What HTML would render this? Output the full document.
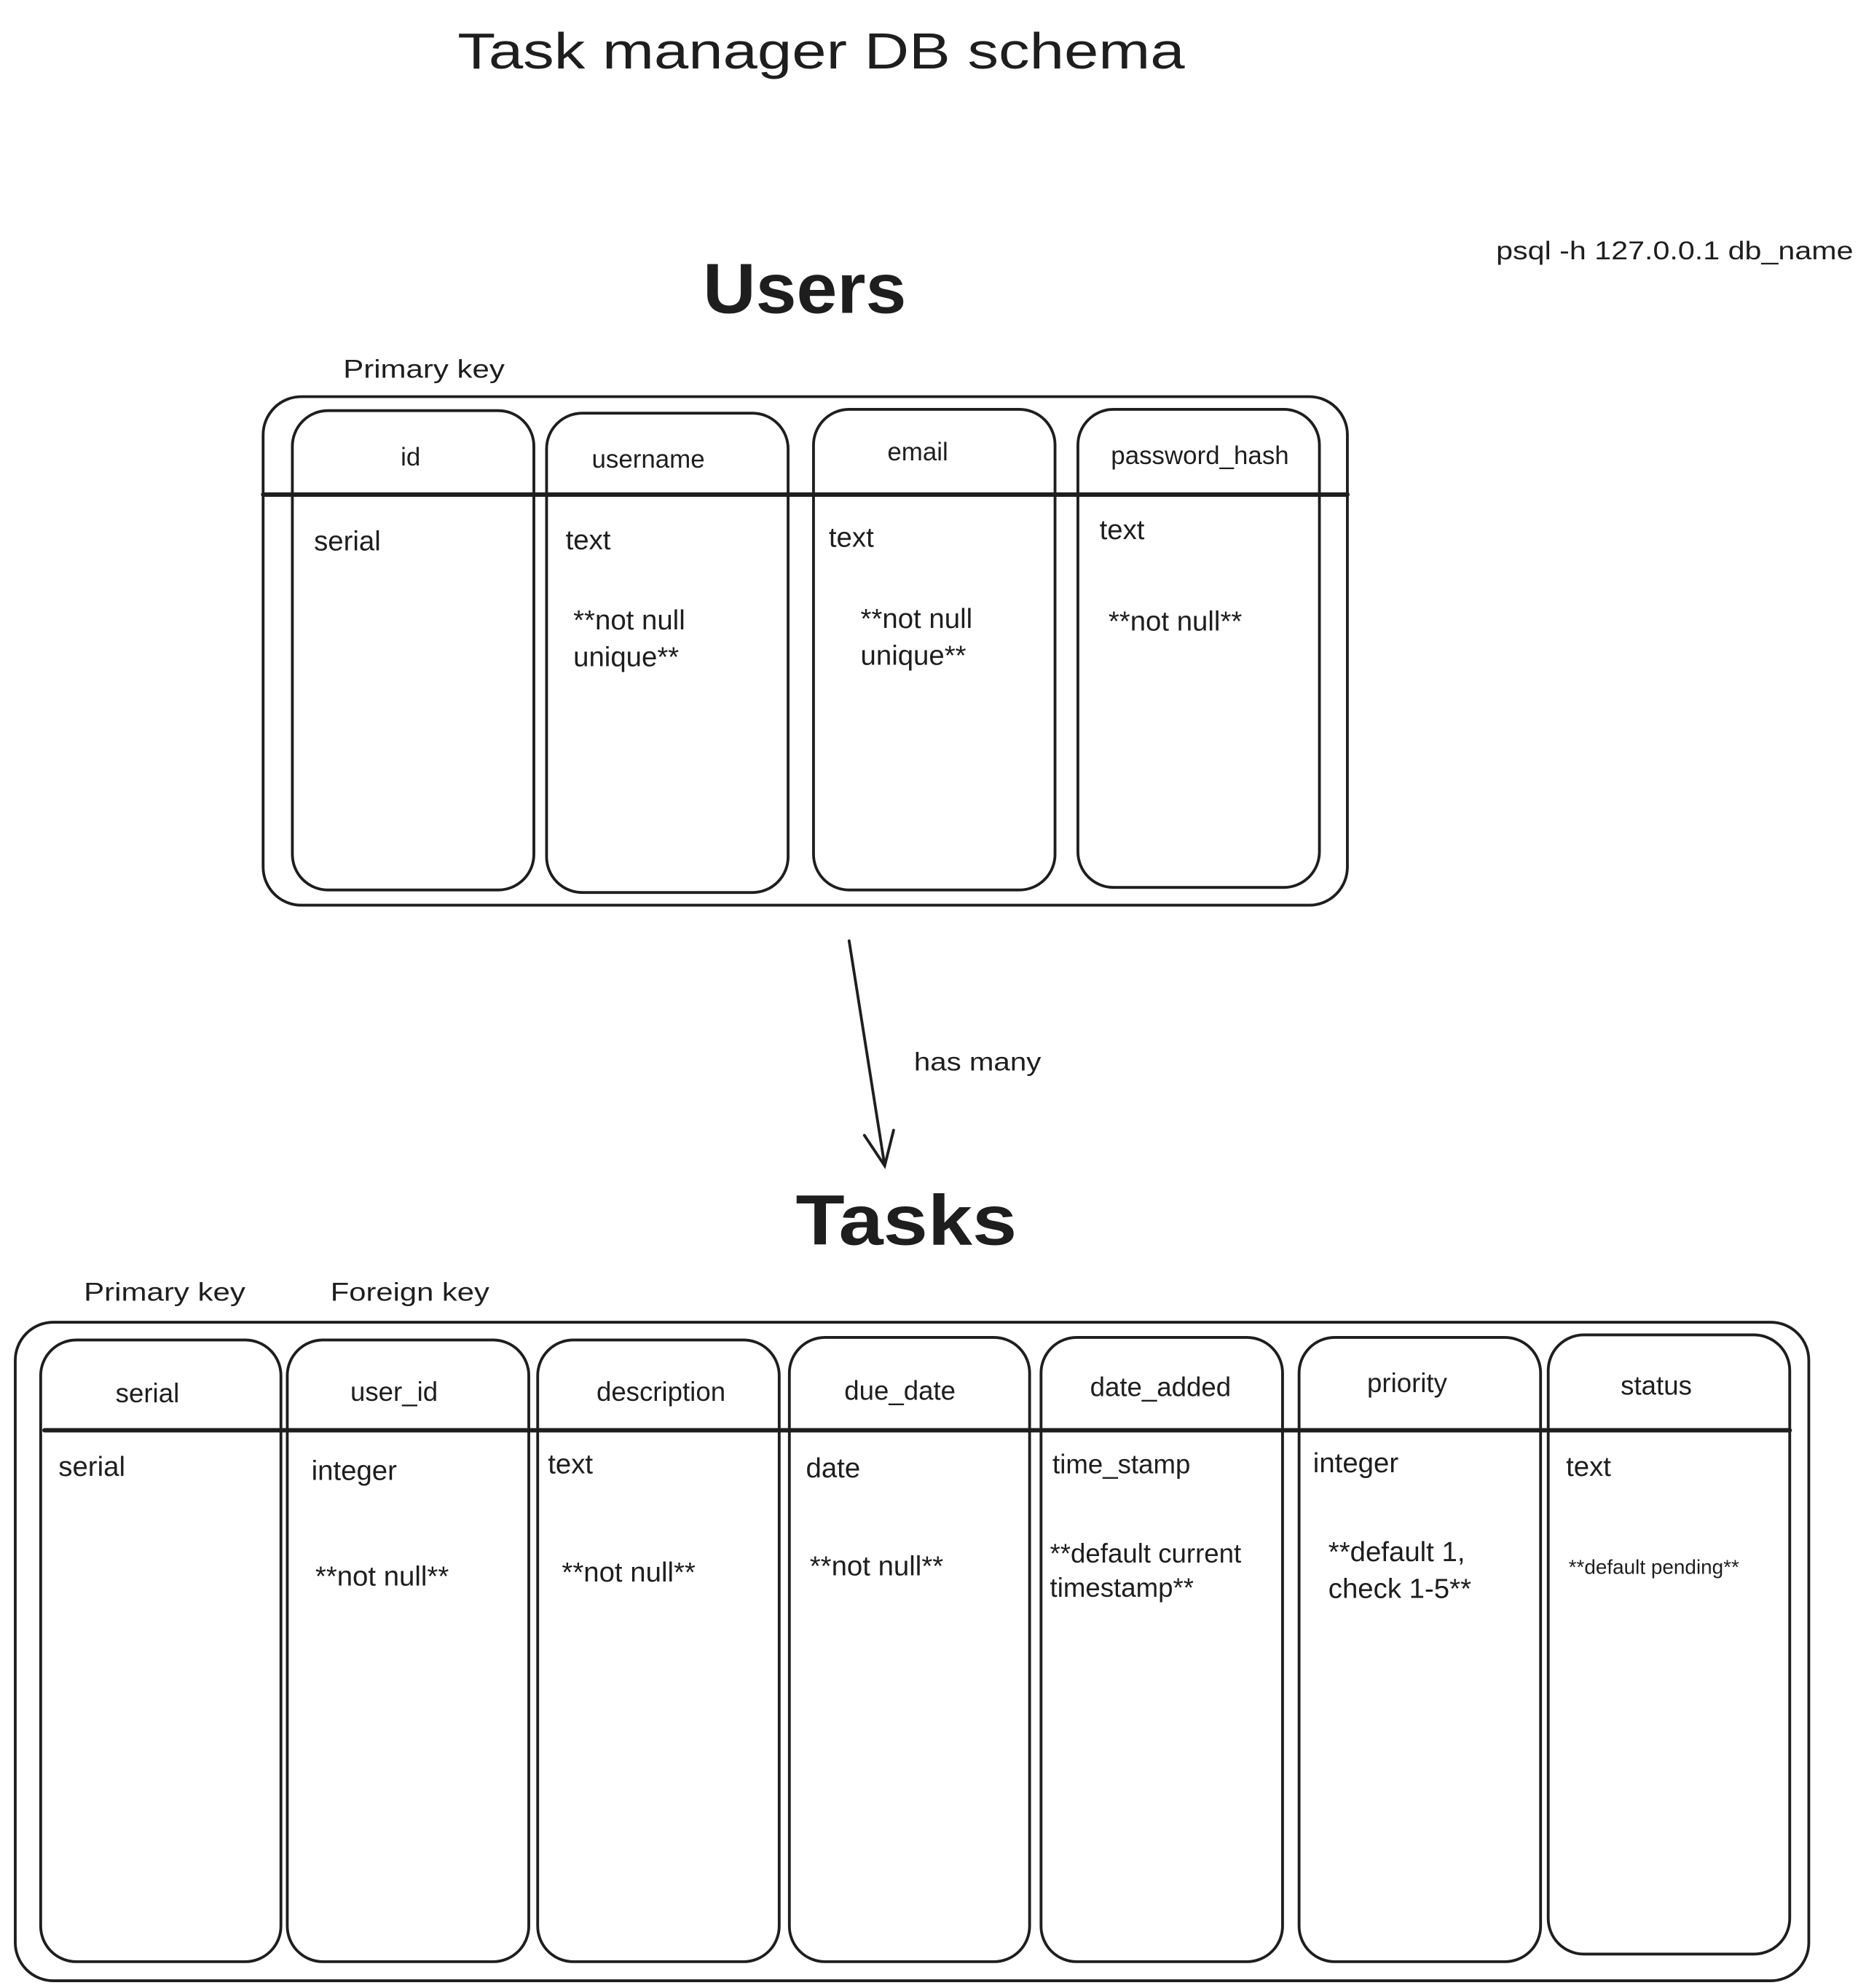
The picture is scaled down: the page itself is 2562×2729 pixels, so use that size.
<!DOCTYPE html>
<html><head><meta charset="utf-8"><style>
html,body{margin:0;padding:0;background:#fff;}
svg{display:block;}
text{font-family:"Liberation Sans",sans-serif;fill:#1e1e1e;}
</style></head><body>
<svg width="2562" height="2729" viewBox="0 0 1468 1563.7" xmlns="http://www.w3.org/2000/svg">
<rect x="0" y="0" width="1468" height="1564" fill="#fff"/>
<g fill="none" stroke="#1e1e1e" stroke-width="2.2" stroke-linecap="round">
<rect x="207" y="312" width="853" height="400" rx="30"/>
<line x1="207" y1="389" x2="1060" y2="389" stroke-width="3.5"/>
<rect x="230" y="323" width="190" height="377" rx="28"/>
<rect x="430" y="325" width="190" height="377" rx="28"/>
<rect x="640" y="322" width="190" height="378" rx="28"/>
<rect x="848" y="322" width="190" height="376" rx="28"/>
<line x1="668" y1="740" x2="696" y2="917"/>
<polyline points="680,893 696,917 703,889"/>
<rect x="12" y="1040" width="1411" height="518" rx="30"/>
<line x1="35" y1="1125" x2="1408" y2="1125" stroke-width="3.5"/>
<rect x="32" y="1054" width="189" height="489" rx="28"/>
<rect x="226" y="1054" width="190" height="489" rx="28"/>
<rect x="423" y="1054" width="190" height="489" rx="28"/>
<rect x="621" y="1052" width="189" height="491" rx="28"/>
<rect x="819" y="1052" width="190" height="491" rx="28"/>
<rect x="1022" y="1052" width="190" height="491" rx="28"/>
<rect x="1218" y="1050" width="190" height="487" rx="28"/>
</g>
<text x="360" y="54" font-size="40" textLength="572" lengthAdjust="spacingAndGlyphs">Task manager DB schema</text>
<text x="1177" y="204" font-size="20" textLength="281" lengthAdjust="spacingAndGlyphs">psql -h 127.0.0.1 db_name</text>
<text x="553" y="246" font-size="56" font-weight="bold" textLength="160" lengthAdjust="spacingAndGlyphs">Users</text>
<text x="270" y="297" font-size="20" textLength="127" lengthAdjust="spacingAndGlyphs">Primary key</text>
<g font-size="20" text-anchor="middle">
<text x="323" y="366">id</text>
<text x="510" y="368">username</text>
<text x="722" y="362">email</text>
<text x="944" y="365">password_hash</text>
</g>
<g font-size="22">
<text x="247" y="433">serial</text>
<text x="445" y="432">text</text>
<text x="451" y="495">**not null</text>
<text x="451" y="524">unique**</text>
<text x="652" y="430">text</text>
<text x="677" y="494">**not null</text>
<text x="677" y="523">unique**</text>
<text x="865" y="424">text</text>
<text x="872" y="496">**not null**</text>
</g>
<text x="719" y="842" font-size="20" textLength="100" lengthAdjust="spacingAndGlyphs">has many</text>
<text x="626" y="979" font-size="56" font-weight="bold" textLength="174" lengthAdjust="spacingAndGlyphs">Tasks</text>
<text x="66" y="1023" font-size="20" textLength="127" lengthAdjust="spacingAndGlyphs">Primary key</text>
<text x="260" y="1023" font-size="20" textLength="125" lengthAdjust="spacingAndGlyphs">Foreign key</text>
<g font-size="21" text-anchor="middle">
<text x="116" y="1103">serial</text>
<text x="310" y="1102">user_id</text>
<text x="520" y="1102">description</text>
<text x="708" y="1101">due_date</text>
<text x="913" y="1098">date_added</text>
<text x="1107" y="1095">priority</text>
<text x="1303" y="1097">status</text>
</g>
<g font-size="22">
<text x="46" y="1161">serial</text>
<text x="245" y="1164">integer</text>
<text x="248" y="1247">**not null**</text>
<text x="431" y="1159">text</text>
<text x="442" y="1244">**not null**</text>
<text x="634" y="1162">date</text>
<text x="637" y="1239">**not null**</text>
<text x="828" y="1159" font-size="21">time_stamp</text>
<text x="826" y="1229" font-size="21">**default current</text>
<text x="826" y="1256" font-size="21">timestamp**</text>
<text x="1033" y="1158">integer</text>
<text x="1045" y="1228">**default 1,</text>
<text x="1045" y="1257">check 1-5**</text>
<text x="1232" y="1161">text</text>
<text x="1234" y="1238" font-size="16">**default pending**</text>
</g>
</svg>
</body></html>
